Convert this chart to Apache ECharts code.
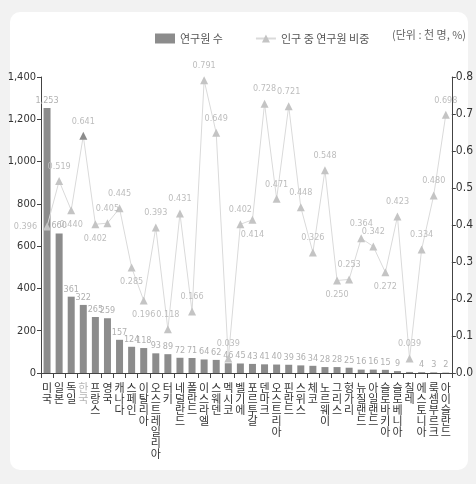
<!DOCTYPE html>
<html><head><meta charset="utf-8">
<script src="https://cdn.jsdelivr.net/npm/echarts@6/dist/echarts.min.js"></script>
<style>
html,body{margin:0;padding:0;background:#f2f2f2;}
#wrap{position:absolute;left:10px;top:12px;width:458px;height:458px;background:#fff;border-radius:10px;}
#main{position:absolute;left:0;top:0;width:476px;height:484px;}
</style></head>
<body><div id="wrap"></div><div id="main"></div>
<script>
const categories = ['미국','일본','독일','한국','프랑스','영국','캐나다','스페인','이탈리아','오스트레일리아','터키','네덜란드','폴란드','이스라엘','스웨덴','멕시코','벨기에','포르투갈','덴마크','오스트리아','핀란드','스위스','체코','노르웨이','그리스','헝가리','뉴질랜드','아일랜드','슬로바키아','슬로베니아','칠레','에스토니아','룩셈부르크','아이슬란드'];
const researchers = [1253,660,361,322,265,259,157,124,118,93,89,72,71,64,62,46,45,43,41,40,39,36,34,28,28,25,16,16,15,9,5,4,3,2];
const share = [0.396,0.519,0.440,0.641,0.402,0.405,0.445,0.285,0.196,0.393,0.118,0.431,0.166,0.791,0.649,0.039,0.402,0.414,0.728,0.471,0.721,0.448,0.326,0.548,0.250,0.253,0.364,0.342,0.272,0.423,0.039,0.334,0.480,0.698];
const leftTicks = [0,200,400,600,800,1000,1200,1400];
const rightTicks = [0,0.1,0.2,0.3,0.4,0.5,0.6,0.7,0.8];
const labelPos = ['left','top','bottom','top','bottom','top','top','bottom','bottom','top','top','top','top','top','top','top','top','bottom','top','top','top','top','top','top','bottom','top','top','top','bottom','top','top','top','top','top'];
const hiddenBarLabel = ['칠레'];
const highlight = '한국';

const NARROW = "'Liberation Sans Narrow','DejaVu Sans Condensed','Roboto',sans-serif";
const chart = echarts.init(document.getElementById('main'), null, {renderer:'canvas'});
chart.setOption({
  backgroundColor: 'transparent',
  animation: false,
  legend: {
    top: 28, left: 150, itemGap: 32, itemWidth: 20, itemHeight: 10,
    textStyle: {fontFamily: "'Noto Sans CJK KR',sans-serif", fontSize: 11, color: '#555'},
    data: [{name:'연구원 수', icon:'rect', itemStyle:{color:'#8c8c8c'}}, {name:'인구 중 연구원 비중'}]
  },
  graphic: [{type:'text', right: 10, top: 29, style:{text:'(단위 : 천 명, %)', font:"11px 'Noto Sans CJK KR',sans-serif", fill:'#666'}}],
  grid: {left: 41, right: 23, top: 77, bottom: 111},
  xAxis: {
    type: 'category', data: categories,
    axisLine: {lineStyle: {color: '#444'}},
    axisTick: {show: true, alignWithLabel: false, length: 5, lineStyle: {color:'#444'}},
    axisLabel: {
      interval: 0, margin: 9,
      fontFamily: "'Noto Sans CJK KR',sans-serif", fontSize: 11, lineHeight: 11,
      color: v => v === highlight ? '#b5b5b5' : '#333',
      formatter: v => v.split('').join('\n')
    }
  },
  yAxis: [{
    type: 'value', min: 0, max: 1400, interval: 200, position: 'left',
    splitLine: {show: false},
    axisLine: {show: true, lineStyle: {color: '#444'}},
    axisTick: {show: true, length: 4, lineStyle:{color:'#444'}},
    axisLabel: {fontFamily: NARROW, fontSize: 11, color: '#333', margin: 5,
      formatter: v => v.toLocaleString('en-US')}
  }, {
    type: 'value', min: 0, max: 0.8, interval: 0.1, position: 'right',
    splitLine: {show: false},
    axisLine: {show: true, lineStyle: {color: '#444'}},
    axisTick: {show: true, length: 4, lineStyle:{color:'#444'}},
    axisLabel: {fontFamily: NARROW, fontSize: 12, color: '#333', margin: 4,
      formatter: v => v.toFixed(1)}
  }],
  series: [{
    name: '연구원 수', type: 'bar', yAxisIndex: 0, barWidth: 7,
    itemStyle: {color: '#8c8c8c'},
    data: researchers.map((v,i) => ({value: v, label: {show: hiddenBarLabel.indexOf(categories[i]) < 0}})),
    label: {show: true, position: 'top', distance: 3, fontFamily: NARROW, fontSize: 9, color: '#b0b0b0',
      formatter: p => p.value.toLocaleString('en-US')}
  }, {
    name: '인구 중 연구원 비중', type: 'line', yAxisIndex: 1,
    symbol: 'triangle', symbolSize: 8,
    lineStyle: {color: '#dadada', width: 1},
    itemStyle: {color: '#c4c4c4'},
    data: share.map((v,i) => ({value: v,
      itemStyle: categories[i] === highlight ? {color:'#8c8c8c'} : undefined,
      label: {position: labelPos[i]}})),
    label: {show: true, distance: 6, fontFamily: NARROW, fontSize: 9, color: '#bdbdbd',
      formatter: p => p.value.toFixed(3)}
  }]
});
</script></body></html>
